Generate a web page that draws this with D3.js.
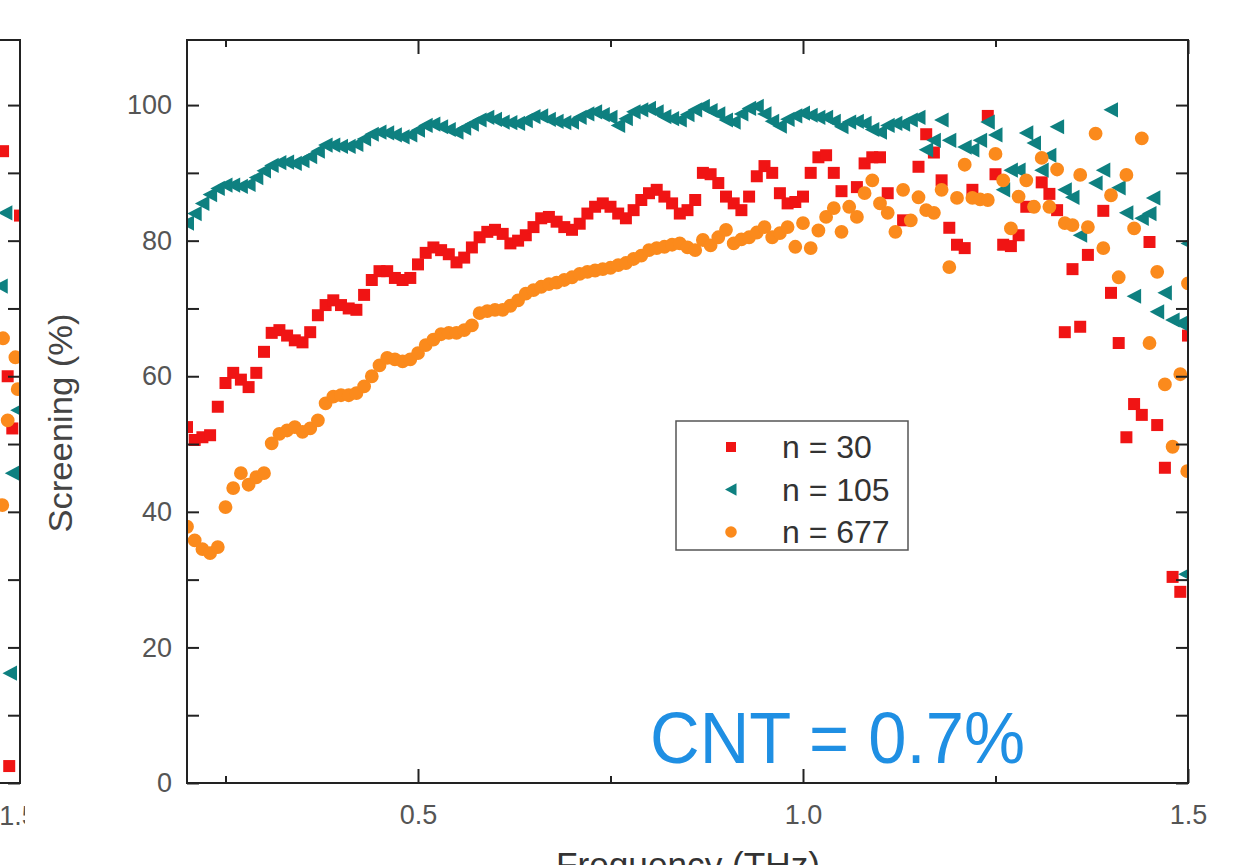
<!DOCTYPE html>
<html><head><meta charset="utf-8">
<script src="https://cdn.jsdelivr.net/npm/d3@7"></script>
<style>body{margin:0;background:#fff} svg{display:block} text{font-family:'Liberation Sans',Arial,sans-serif}</style>
</head><body><svg id="c" width="1242" height="865"></svg>
<script>
// ---- data (frequency in THz, screening in %) ----
const freq = [0.20,0.21,0.22,0.23,0.24,0.25,0.26,0.27,0.28,0.29,0.30,0.31,0.32,0.33,0.34,0.35,0.36,0.37,0.38,0.39,
0.40,0.41,0.42,0.43,0.44,0.45,0.46,0.47,0.48,0.49,0.50,0.51,0.52,0.53,0.54,0.55,0.56,0.57,0.58,0.59,
0.60,0.61,0.62,0.63,0.64,0.65,0.66,0.67,0.68,0.69,0.70,0.71,0.72,0.73,0.74,0.75,0.76,0.77,0.78,0.79,
0.80,0.81,0.82,0.83,0.84,0.85,0.86,0.87,0.88,0.89,0.90,0.91,0.92,0.93,0.94,0.95,0.96,0.97,0.98,0.99,
1.00,1.01,1.02,1.03,1.04,1.05,1.06,1.07,1.08,1.09,1.10,1.11,1.12,1.13,1.14,1.15,1.16,1.17,1.18,1.19,
1.20,1.21,1.22,1.23,1.24,1.25,1.26,1.27,1.28,1.29,1.30,1.31,1.32,1.33,1.34,1.35,1.36,1.37,1.38,1.39,
1.40,1.41,1.42,1.43,1.44,1.45,1.46,1.47,1.48,1.49,1.50];

const n30 = [52.5,50.6,51,51.3,55.5,59,60.5,59.5,58.4,60.5,63.6,66.4,66.8,66,65.3,65,66.5,69,70.5,71.2,
70.5,70,69.8,72,74.2,75.5,75.5,74.5,74.2,74.5,76.5,78.2,79,78.6,78,76.8,77.5,79,80.5,81.3,
81.6,81,79.6,80,80.8,82,83.3,83.5,82.8,82,81.6,82.5,84,85,85.5,85,84,83.3,84.5,86,
87,87.5,86.5,85.5,84,84.5,86,90,89.8,88.5,86.5,85.5,84.5,86.5,89.5,91,90,87,85.5,85.7,
86.5,90,92.3,92.6,90,87.3,null,87.9,91.4,92.3,92.3,87,null,83,null,90.9,95.7,93,88.9,81.9,
79.4,78.9,87.5,null,98.4,89.8,79.4,79.2,80.8,85,null,88.6,86.9,84.5,66.5,75.8,67.3,77.9,null,84.4,
72.3,64.9,51,55.9,54.3,79.8,52.8,46.5,30.4,28.2,66];

const n105 = [82.6,84,85.5,86.8,87.7,88.2,88.2,88,88.3,89.3,90.3,91.1,91.5,91.6,91.4,91.8,92.4,93.2,94.1,94.1,
93.9,93.9,94.2,95,95.7,96,95.9,95.6,95.3,95.6,96.3,97,97.2,96.8,96.4,96,96.6,97.2,97.8,98.2,
97.9,97.5,97.4,97.3,97.7,98.3,98.4,97.9,97.6,97.4,97.5,98.2,98.7,99,98.6,98.2,97,98,99,99.3,
99.5,99,98.3,98,97.8,98.6,99.3,99.8,99.2,98.7,97.8,97.5,98.7,99.5,99.8,98.7,97.6,96.9,97.9,98.4,
98.8,98.5,98.2,98.2,97.6,96.8,97.5,97.6,97.3,96.4,96,97,97.3,97.2,97.8,98.2,93.4,94.8,97.8,94.8,
null,93.8,93.4,94.8,97.5,95.6,87.5,90.4,90.4,95.9,94.4,90.4,92.6,96.8,87.5,86.4,80.8,null,88.5,90.4,
99.3,87.8,84.1,71.8,83.3,84,69.5,72.3,68.3,67.8,79.6];
const n105ExtraFreq = [1.455, 1.497];
const n105ExtraVal = [86.3, 30.8];

const n677 = [37.8,35.8,34.5,33.9,34.8,40.7,43.5,45.7,44,45.1,45.7,50.1,51.5,52,52.5,51.8,52.3,53.5,56,57,
57.2,57.2,57.5,58.5,60,61.6,62.7,62.5,62.2,62.5,63.4,64.6,65.4,66.2,66.4,66.4,66.8,67.5,69.3,69.6,
69.8,69.8,70.4,71.2,72.2,72.7,73.2,73.6,73.8,74.2,74.6,75.1,75.4,75.6,75.8,76,76.4,76.7,77.3,77.8,
78.6,78.9,79.1,79.4,79.6,79,78.6,80.1,79.3,80.5,81.6,79.6,80.2,80.5,81.2,82,80.5,81.1,82,79.1,
82.6,78.9,81.5,83.5,84.8,81.3,85,83.5,87,88.9,85.5,84.1,81.3,87.5,83,86.4,84.5,84.1,87.5,76.1,
86.3,91.2,86.3,86.1,86,92.8,88.9,81.8,86.5,88.9,85,92.2,85,90.5,82.6,82.3,89.7,82,95.8,78.9,
86.7,74.6,89.7,81.8,95.1,64.9,75.4,58.8,49.6,60.3,73.7];
const n677ExtraFreq = [1.499];
const n677ExtraVal = [46];

// neighbouring (cropped) panel on the far left
const leftRedFreq = [1.478,1.5,1.484,1.49,1.486];
const leftRedVal = [93.2,83.7,60,52.3,2.5];
const leftTealFreq = [1.481,1.475,1.497,1.49,1.487];
const leftTealVal = [84.1,73.3,55,45.7,16.2];
const leftOrangeFreq = [1.478,1.494,1.497,1.484,1.477];
const leftOrangeVal = [65.6,62.8,58.1,53.5,41];

const seriesNames = ["n = 30","n = 105","n = 677"];
const yTicks = [0,10,20,30,40,50,60,70,80,90,100];
const xMajor = [0.5,1.0,1.5];
const xMinor = [0.25,0.75,1.25];

// ---- drawing ----
const colors = ["#f01414","#0e8080","#fb8a1c"];
const svg = d3.select("#c");
const L=187,R=1188,T=40,B=783;
const x = d3.scaleLinear().domain([0.2,1.5]).range([L,R]);
const y = d3.scaleLinear().domain([0,109.6]).range([B,T]);
const ink="#222";

const defs = svg.append("defs");
defs.append("clipPath").attr("id","plotclip").append("rect").attr("x",L).attr("y",T).attr("width",R-L).attr("height",B-T);
defs.append("clipPath").attr("id","leftclip").append("rect").attr("x",0).attr("y",T).attr("width",21).attr("height",B-T);
defs.append("clipPath").attr("id","leftlabclip").append("rect").attr("x",0).attr("y",0).attr("width",25).attr("height",865);

const sq = d3.symbol().type(d3.symbolSquare).size(144);
const tri = "M-7.5,0L7,-7.6L7,7.6Z";
const circ = d3.symbol().type(d3.symbolCircle).size(150);
const shapes = [sq(), tri, circ()];

function pts(fr, vals){ return fr.map((f,i)=>({f:f,v:vals[i]})).filter(d=>d.v!=null); }
const sets = [
  pts(freq,n30),
  pts(freq,n105).concat(pts(n105ExtraFreq,n105ExtraVal)),
  pts(freq,n677).concat(pts(n677ExtraFreq,n677ExtraVal))
];

const plot = svg.append("g").attr("clip-path","url(#plotclip)");
sets.forEach((s,i)=>{
  plot.append("g").selectAll("path").data(s).join("path")
    .attr("d",shapes[i]).attr("fill",colors[i])
    .attr("transform",d=>`translate(${x(d.f)},${y(d.v)})`);
});

// frame
svg.append("rect").attr("x",L).attr("y",T).attr("width",R-L).attr("height",B-T)
  .attr("fill","none").attr("stroke",ink).attr("stroke-width",2);

function styleAxis(g){ g.select(".domain").remove(); g.selectAll("line").attr("stroke",ink).attr("stroke-width",2);
  g.selectAll("text").attr("fill","#555").attr("font-size",27).attr("font-family","'Liberation Sans',Arial,sans-serif"); }

svg.append("g").attr("transform",`translate(${L},0)`)
  .call(d3.axisLeft(y).tickValues(yTicks).tickSize(-12).tickPadding(15).tickFormat(d=>d%20===0?d:""))
  .call(styleAxis);
svg.append("g").attr("transform",`translate(${R},0)`)
  .call(d3.axisRight(y).tickValues(yTicks).tickSize(-12).tickFormat(""))
  .call(styleAxis);
svg.append("g").attr("transform",`translate(0,${B})`)
  .call(d3.axisBottom(x).tickValues(xMajor).tickSize(-14).tickPadding(22).tickFormat(d3.format(".1f")))
  .call(styleAxis);
svg.append("g").attr("transform",`translate(0,${B})`)
  .call(d3.axisBottom(x).tickValues(xMinor).tickSize(-7).tickFormat(""))
  .call(styleAxis);
svg.append("g").attr("transform",`translate(0,${T})`)
  .call(d3.axisTop(x).tickValues(xMajor).tickSize(-14).tickFormat(""))
  .call(styleAxis);
svg.append("g").attr("transform",`translate(0,${T})`)
  .call(d3.axisTop(x).tickValues(xMinor).tickSize(-7).tickFormat(""))
  .call(styleAxis);

// axis titles
svg.append("text").attr("transform","translate(60,423) rotate(-90)")
  .attr("text-anchor","middle").attr("dominant-baseline","central")
  .attr("font-size",33).attr("fill","#444").attr("textLength",219).attr("lengthAdjust","spacingAndGlyphs")
  .text("Screening (%)");
svg.append("text").attr("x",556).attr("y",877)
  .attr("font-size",35).attr("fill","#333").attr("textLength",264).attr("lengthAdjust","spacingAndGlyphs")
  .text("Frequency (THz)");

// annotation
svg.append("text").attr("x",650).attr("y",763)
  .attr("font-size",72).attr("fill","#1f8fe3").attr("textLength",375).attr("lengthAdjust","spacingAndGlyphs")
  .text("CNT = 0.7%");

// legend
const lg = svg.append("g");
lg.append("rect").attr("x",676).attr("y",421).attr("width",232).attr("height",129)
  .attr("fill","#fff").attr("stroke","#555").attr("stroke-width",1.5);
const legShapes = [d3.symbol().type(d3.symbolSquare).size(100)(), "M-6,0L5.5,-6.3L5.5,6.3Z", d3.symbol().type(d3.symbolCircle).size(105)()];
seriesNames.forEach((nm,i)=>{
  const cy = 447 + i*42.5;
  lg.append("path").attr("d",legShapes[i]).attr("fill",colors[i]).attr("transform",`translate(731,${cy})`);
  lg.append("text").attr("x",782).attr("y",cy).attr("dominant-baseline","central")
    .attr("font-size",32).attr("fill","#333").text(nm);
});

// cropped neighbouring panel on the left
const xl = d3.scaleLinear().domain([0.2,1.5]).range([20-(R-L),20]);
const leftSets = [pts(leftRedFreq,leftRedVal), pts(leftTealFreq,leftTealVal), pts(leftOrangeFreq,leftOrangeVal)];
const lp = svg.append("g").attr("clip-path","url(#leftclip)");
leftSets.forEach((s,i)=>{
  lp.append("g").selectAll("path").data(s).join("path")
    .attr("d",shapes[i]).attr("fill",colors[i])
    .attr("transform",d=>`translate(${xl(d.f)},${y(d.v)})`);
});
svg.append("path").attr("d",`M0,${T}H20V${B}H0`).attr("fill","none").attr("stroke",ink).attr("stroke-width",2);
svg.append("g").attr("transform","translate(20,0)")
  .call(d3.axisRight(y).tickValues(yTicks).tickSize(-12).tickFormat(""))
  .call(styleAxis);
svg.append("g").attr("clip-path","url(#leftlabclip)")
  .append("text").attr("x",18).attr("y",825).attr("text-anchor","middle")
  .attr("font-size",27).attr("fill","#555").text("1.5");
</script>
</body></html>
